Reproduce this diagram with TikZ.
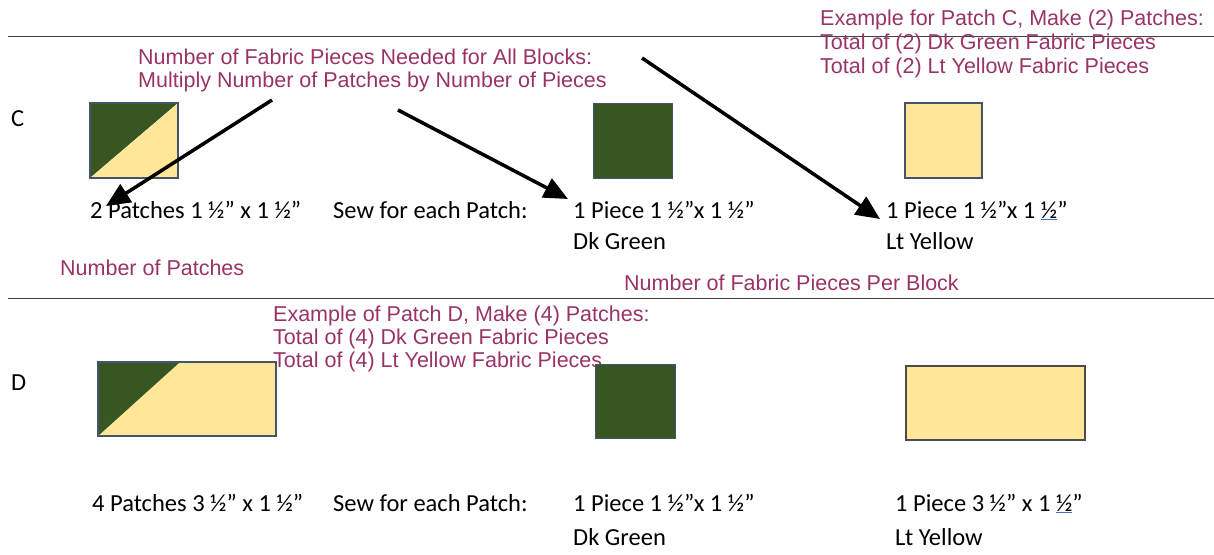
\documentclass[tikz,border=0pt]{standalone}
\usepackage{fontspec}
\setmainfont{Carlito}
\newfontfamily\arialf{Liberation Sans}
\usetikzlibrary{arrows.meta}
\definecolor{plum}{HTML}{993366}
\definecolor{dkgreen}{HTML}{375623}
\definecolor{ltyellow}{HTML}{FFE699}
\definecolor{edgeblue}{HTML}{44546A}
\definecolor{ulblue}{HTML}{4472C4}
\newcommand{\uhalf}{{\color{ulblue}\underline{\color{black}½}}}
\tikzset{
  blk/.style={anchor=base west, inner sep=0pt, font=\fontsize{24.5}{28}\selectfont},
  note/.style={anchor=base west, inner sep=0pt, text=plum, font=\arialf\fontsize{21.5}{24}\selectfont},
  rule/.style={draw=black!75, line width=1pt},
  patchedge/.style={draw=edgeblue, line width=2pt},
  bigarrow/.style={line width=3.5pt, -{Triangle[length=24pt,width=21pt]}},
}
\begin{document}
\begin{tikzpicture}[x=1pt,y=-1pt]
\useasboundingbox (0,0) rectangle (1214,554);
% horizontal rules
\coordinate (r1a) at (8,36); \coordinate (r1b) at (1214,36);
\coordinate (r2a) at (8,298); \coordinate (r2b) at (1214,298);
\draw[rule] (r1a) -- (r1b);
\draw[rule] (r2a) -- (r2b);

% ---- Row C ----
\node[blk] (lc) at (11,126) {C};
% half-square triangle patch
\fill[dkgreen] (90,103) -- (178,103) -- (90,178) -- cycle;
\fill[ltyellow] (178,103) -- (178,178) -- (90,178) -- cycle;
\draw[patchedge] (90,103) rectangle (178,178);
\node[inner sep=0pt, minimum width=79pt, minimum height=75pt, fill=dkgreen, draw=edgeblue, line width=1pt] (gc) at (632.5,140.5) {};
\node[inner sep=0pt, minimum width=77pt, minimum height=75pt, fill=ltyellow, draw=edgeblue, line width=2pt] (yc) at (943.5,140.5) {};

\node[blk] (t1) at (90,218) {2 Patches 1 ½” x 1 ½”};
\node[blk] (t2) at (333,218) {Sew for each Patch:};
\node[blk] (t3) at (573,218) {1 Piece 1 ½”x 1 ½”};
\node[blk] (t4) at (573,249) {Dk Green};
\node[blk] (t5) at (886,218) {1 Piece 1 ½”x 1 \uhalf”};
\node[blk] (t6) at (886,249) {Lt Yellow};

\node[note] (n1) at (138,64) {Number of Fabric Pieces Needed for All Blocks:};
\node[note] (n2) at (138,87) {Multiply Number of Patches by Number of Pieces};
\node[note] (e1) at (820,25) {Example for Patch C, Make (2) Patches:};
\node[note] (e2) at (820,49) {Total of (2) Dk Green Fabric Pieces};
\node[note] (e3) at (820,73) {Total of (2) Lt Yellow Fabric Pieces};
\node[note] (np) at (60,275) {Number of Patches};
\node[note] (nf) at (624,290) {Number of Fabric Pieces Per Block};

% arrows
\coordinate (a1s) at (272,100); \coordinate (a1e) at (106,206);
\coordinate (a2s) at (398,110); \coordinate (a2e) at (568,199);
\coordinate (a3s) at (642,58);  \coordinate (a3e) at (880,219);
\draw[bigarrow] (a1s) -- (a1e);
\draw[bigarrow] (a2s) -- (a2e);
\draw[bigarrow] (a3s) -- (a3e);

% ---- Row D ----
\node[note] (d1) at (273,321) {Example of Patch D, Make (4) Patches:};
\node[note] (d2) at (273,344) {Total of (4) Dk Green Fabric Pieces};
\node[blk] (ld) at (11,390) {D};
\fill[ltyellow] (98,362) rectangle (276,436);
\fill[dkgreen] (98,362) -- (180,362) -- (98,436) -- cycle;
\draw[patchedge] (98,362) rectangle (276,436);
\node[note] (d3) at (273,367) {Total of (4) Lt Yellow Fabric Pieces};
\node[inner sep=0pt, minimum width=80pt, minimum height=74pt, fill=dkgreen, draw=edgeblue, line width=1pt] (gd) at (635,401) {};
\node[inner sep=0pt, minimum width=179pt, minimum height=74pt, fill=ltyellow, draw=black!70, line width=2pt] (yd) at (995.5,403) {};

\node[blk] (u1) at (92,511) {4 Patches 3 ½” x 1 ½”};
\node[blk] (u2) at (333,511) {Sew for each Patch:};
\node[blk] (u3) at (573,511) {1 Piece 1 ½”x 1 ½”};
\node[blk] (u4) at (573,545) {Dk Green};
\node[blk] (u5) at (895,511) {1 Piece 3 ½” x 1 \uhalf”};
\node[blk] (u6) at (895,545) {Lt Yellow};
\end{tikzpicture}
\end{document}
